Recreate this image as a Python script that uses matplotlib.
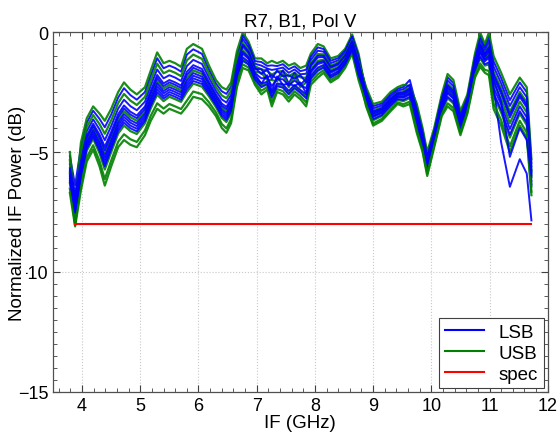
import matplotlib
matplotlib.use("Agg")
import matplotlib.pyplot as plt
from matplotlib.lines import Line2D
from matplotlib.ticker import MultipleLocator

plt.rcParams['font.family'] = ['Liberation Sans', 'DejaVu Sans']

# IF frequency grid (GHz)
IF_GHZ = [3.79, 3.88, 3.98, 4.08, 4.19, 4.30, 4.39, 4.50, 4.62, 4.72, 4.83, 4.94,
          5.08, 5.18, 5.29, 5.40, 5.50, 5.60, 5.70, 5.80, 5.91, 6.06, 6.18, 6.30,
          6.40, 6.48, 6.56, 6.66, 6.76, 6.86, 6.97, 7.08, 7.18, 7.26, 7.35, 7.45,
          7.55, 7.65, 7.75, 7.85, 7.93, 8.05, 8.15, 8.27, 8.40, 8.52, 8.64, 8.75,
          8.88, 9.00, 9.15, 9.30, 9.42, 9.52, 9.63, 9.75, 9.85, 9.93, 10.05, 10.18,
          10.28, 10.38, 10.50, 10.62, 10.75, 10.84, 10.92, 10.99, 11.07, 11.20,
          11.35, 11.52, 11.64, 11.72]

# Normalized IF power (dB), lower sideband sweeps
LSB_1 = [-5.17, -6.39, -4.80, -3.78, -3.28, -3.62, -3.97, -3.44, -2.73, -2.34, -2.63, -2.82,
         -2.50, -1.81, -1.09, -1.51, -1.40, -1.50, -1.65, -0.94, -0.72, -0.91, -1.57, -2.15,
         -2.47, -2.58, -2.27, -0.95,
         -0.30, -0.64, -1.32, -1.40, -1.52, -1.58, -1.54, -1.48, -1.70, -1.56, -1.76, -1.74,
         -1.16, -0.78, -0.82, -1.30, -1.18, -0.86, -0.26, -1.12,
         -2.38, -3.09, -2.98, -2.58, -2.37, -2.29, -2.00, -3.12, -4.10, -5.10, -4.08, -2.69,
         -1.89, -2.13, -3.40, -2.68, -1.00, -0.15, -0.62, -0.18, -1.22, -1.92, -2.84, -2.10,
         -2.51, -5.45]
LSB_2 = [-5.51, -6.77, -5.20, -4.14, -3.64, -4.06, -4.51, -3.92, -3.19, -2.82, -3.09, -3.26,
         -2.90, -2.23, -1.56, -1.93, -1.80, -1.90, -2.04, -1.42, -1.16, -1.33, -1.91, -2.45,
         -2.81, -2.94, -2.61, -1.25,
         -0.15, -0.52, -1.21, -1.25, -1.41, -1.39, -1.42, -1.34, -1.55, -1.43, -1.63, -1.57,
         -1.03, -0.64, -0.71, -1.20, -1.09, -0.78, -0.18, -1.01,
         -2.62, -3.36, -3.22, -2.82, -2.58, -2.56, -2.40, -3.48, -4.40, -5.40, -4.32, -2.96,
         -2.29, -2.52, -3.70, -2.92, -1.30, -0.58, -0.98, -0.72, -1.88, -2.58, -3.56, -2.70,
         -3.14, -5.90]
LSB_3 = [-5.68, -6.96, -5.40, -4.32, -3.82, -4.28, -4.78, -4.16, -3.42, -3.06, -3.32, -3.48,
         -3.10, -2.44, -1.79, -2.14, -2.00, -2.10, -2.23, -1.66, -1.38, -1.54, -2.08, -2.60,
         -2.98, -3.12, -2.78, -1.40,
         -0.60, -0.88, -1.54, -1.55, -1.90, -1.80, -1.95, -1.60, -2.15, -1.70, -2.20, -1.95,
         -1.42, -1.06, -1.04, -1.50, -1.36, -1.02, -0.42, -1.34,
         -2.46, -3.18, -3.06, -2.66, -2.44, -2.38, -2.20, -3.24, -4.20, -5.20, -4.16, -2.78,
         -2.02, -2.26, -3.50, -2.76, -1.10, -0.29, -0.74, -0.36, -1.44, -2.14, -3.08, -2.30,
         -2.72, -5.60]
LSB_4 = [-5.94, -7.25, -5.70, -4.59, -4.09, -4.61, -5.19, -4.52, -3.77, -3.42, -3.67, -3.81,
         -3.40, -2.76, -2.14, -2.46, -2.30, -2.40, -2.52, -2.02, -1.71, -1.86, -2.34, -2.83,
         -3.24, -3.39, -3.04, -1.63,
         -0.83, -1.06, -1.71, -1.93, -1.91, -2.25, -1.96, -1.97, -2.23, -2.02, -2.22, -2.34,
         -1.62, -1.27, -1.21, -1.65, -1.50, -1.14, -0.54, -1.51,
         -2.86, -3.63, -3.46, -3.06, -2.79, -2.83, -2.70, -3.84, -4.70, -5.70, -4.56, -3.23,
         -2.70, -2.91, -4.00, -3.16, -1.60, -1.02, -1.34, -1.26, -2.54, -3.24, -4.28, -3.30,
         -3.77, -6.35]
LSB_5 = [-6.02, -7.34, -5.80, -4.68, -4.18, -4.72, -5.32, -4.64, -3.88, -3.54, -3.78, -3.92,
         -3.50, -2.86, -2.26, -2.56, -2.40, -2.50, -2.62, -2.14, -1.82, -1.96, -2.42, -2.90,
         -3.32, -3.48, -3.12, -1.70,
         -0.90, -1.12, -1.76, -2.15, -1.80, -2.45, -1.85, -2.20, -2.15, -2.25, -2.10, -2.55,
         -1.68, -1.34, -1.26, -1.70, -1.54, -1.18, -0.58, -1.56,
         -2.78, -3.54, -3.38, -2.98, -2.72, -2.74, -2.60, -3.72, -4.60, -5.60, -4.48, -3.14,
         -2.56, -2.78, -3.90, -3.08, -1.50, -0.87, -1.22, -1.08, -2.32, -3.02, -4.04, -3.10,
         -3.56, -6.20]
LSB_6 = [-6.19, -7.53, -6.00, -4.86, -4.36, -4.94, -5.59, -4.88, -4.11, -3.78, -4.01, -4.14,
         -3.70, -3.07, -2.50, -2.77, -2.60, -2.70, -2.82, -2.38, -2.04, -2.17, -2.59, -3.05,
         -3.49, -3.66, -3.29, -1.85,
         -1.05, -1.24, -1.87, -2.15, -2.07, -2.53, -2.14, -2.18, -2.45, -2.21, -2.41, -2.59,
         -1.81, -1.48, -1.37, -1.80, -1.63, -1.26, -0.66, -1.67,
         -2.74, -3.50, -3.34, -2.94, -2.69, -2.70, -2.55, -3.66, -4.55, -5.55, -4.44, -3.10,
         -2.49, -2.72, -3.85, -3.04, -1.45, -0.80, -1.16, -0.99, -2.30, -4.60, -6.45, -5.30,
         -5.90, -7.85]
LSB_7 = [-5.77, -7.06, -5.50, -4.41, -3.91, -4.39, -4.92, -4.28, -3.54, -3.18, -3.44, -3.59,
         -3.20, -2.55, -1.91, -2.25, -2.10, -2.20, -2.33, -1.78, -1.49, -1.65, -2.17, -2.68,
         -3.07, -3.21, -2.87, -1.48,
         -0.53, -0.82, -1.49, -1.75, -1.55, -1.95, -1.60, -1.85, -1.80, -1.95, -1.80, -2.10,
         -1.36, -0.99, -0.99, -1.45, -1.32, -0.98, -0.38, -1.29,
         -2.58, -3.32, -3.18, -2.78, -2.55, -2.52, -2.35, -3.42, -4.35, -5.35, -4.28, -2.92,
         -2.22, -2.46, -3.65, -2.88, -1.25, -0.51, -0.92, -0.63, -1.77, -2.47, -3.44, -2.60,
         -3.04, -5.83]
LSB_8 = [-6.11, -7.44, -5.90, -4.77, -4.27, -4.83, -5.46, -4.76, -4.00, -3.66, -3.90, -4.03,
         -3.60, -2.97, -2.38, -2.67, -2.50, -2.60, -2.72, -2.26, -1.93, -2.07, -2.51, -2.98,
         -3.41, -3.57, -3.21, -1.78,
         -1.20, -1.36, -1.98, -2.30, -2.18, -2.72, -2.26, -2.32, -2.60, -2.34, -2.54, -2.76,
         -1.94, -1.62, -1.48, -1.90, -1.72, -1.34, -0.74, -1.78,
         -2.66, -3.41, -3.26, -2.86, -2.62, -2.61, -2.45, -3.54, -4.45, -5.45, -4.36, -3.01,
         -2.36, -2.59, -3.75, -2.96, -1.35, -0.65, -1.04, -0.81, -1.99, -2.90, -5.20, -4.00,
         -4.50, -5.98]

# Normalized IF power (dB), upper sideband sweeps
USB_1 = [-5.00, -7.20, -4.60, -3.60, -3.10, -3.40, -3.70, -3.20, -2.50, -2.10, -2.40, -2.60,
         -2.30, -1.60, -0.85, -1.30, -1.20, -1.30, -1.45, -0.70, -0.50, -0.70, -1.40, -2.00,
         -2.30, -2.40, -2.10, -0.80,
         -0.02, -0.40, -1.10, -1.10, -1.30, -1.20, -1.30, -1.20, -1.40, -1.30, -1.50, -1.40,
         -0.90, -0.50, -0.60, -1.10, -1.00, -0.70, -0.10, -0.90,
         -2.54, -3.27, -3.14, -2.74, -2.51, -2.47, -2.30, -3.36, -4.30, -5.30, -4.24, -2.87,
         -2.16, -2.39, -3.60, -2.84, -1.20, -0.44, -0.86, -0.54, -1.66, -2.36, -3.32, -2.50,
         -2.93, -5.75]
USB_2 = [-5.34, -7.90, -5.00, -3.96, -3.46, -3.84, -4.24, -3.68, -2.96, -2.58, -2.86, -3.04,
         -2.70, -2.02, -1.32, -1.72, -1.60, -1.70, -1.84, -1.18, -0.94, -1.12, -1.74, -2.30,
         -2.64, -2.76, -2.44, -1.10,
         -0.45, -0.76, -1.43, -1.55, -1.63, -1.77, -1.66, -1.62, -1.85, -1.69, -1.89, -1.91,
         -1.29, -0.92, -0.93, -1.40, -1.27, -0.94, -0.34, -1.23,
         -2.30, -3.00, -2.90, -2.50, -2.30, -2.20, -2.25, -3.00, -4.00, -5.00, -4.00, -2.60,
         -1.75, -2.00, -3.30, -2.60, -0.90, -0.02, -0.50, -0.02, -1.00, -1.70, -2.60, -1.90,
         -2.30, -5.30]
USB_3 = [-5.85, -8.00, -5.60, -4.50, -4.00, -4.50, -5.05, -4.40, -3.65, -3.30, -3.55, -3.70,
         -3.30, -2.65, -2.03, -2.35, -2.20, -2.30, -2.43, -1.90, -1.60, -1.75, -2.25, -2.75,
         -3.15, -3.30, -2.95, -1.55,
         -0.75, -1.00, -1.65, -1.70, -2.00, -2.00, -2.05, -1.75, -2.30, -1.80, -2.30, -2.10,
         -1.55, -1.20, -1.15, -1.60, -1.45, -1.10, -0.50, -1.45,
         -2.90, -3.68, -3.50, -3.10, -2.83, -2.88, -2.75, -3.90, -4.75, -5.75, -4.60, -3.28,
         -2.76, -2.98, -4.05, -3.20, -1.65, -1.09, -1.40, -1.35, -2.65, -3.35, -4.40, -3.40,
         -3.88, -6.43]
USB_4 = [-6.28, -8.05, -6.10, -4.95, -4.45, -5.05, -5.73, -5.00, -4.23, -3.90, -4.13, -4.25,
         -3.80, -3.18, -2.61, -2.88, -2.70, -2.80, -2.91, -2.50, -2.15, -2.28, -2.68, -3.13,
         -3.58, -3.75, -3.38, -1.93,
         -1.35, -1.48, -2.09, -2.45, -2.29, -2.91, -2.38, -2.46, -2.75, -2.47, -2.67, -2.93,
         -2.07, -1.76, -1.59, -2.00, -1.81, -1.42, -0.82, -1.89,
         -2.70, -3.45, -3.30, -2.90, -2.65, -2.65, -2.50, -3.60, -4.50, -5.50, -4.40, -3.05,
         -2.43, -2.65, -3.80, -3.00, -1.40, -0.73, -1.10, -0.90, -2.10, -2.80, -3.80, -2.90,
         -3.35, -6.05]
USB_5 = [-6.53, -7.91, -6.40, -5.22, -4.72, -5.38, -6.13, -5.36, -4.57, -4.26, -4.47, -4.58,
         -4.10, -3.49, -2.97, -3.19, -3.00, -3.10, -3.21, -2.86, -2.48, -2.59, -2.93, -3.35,
         -3.83, -4.02, -3.63, -2.15,
         -1.13, -1.30, -1.93, -2.23, -2.13, -2.63, -2.20, -2.25, -2.53, -2.28, -2.48, -2.68,
         -1.88, -1.55, -1.43, -1.85, -1.68, -1.30, -0.70, -1.73,
         -3.10, -3.90, -3.70, -3.30, -3.00, -3.10, -3.00, -4.20, -5.00, -6.00, -4.80, -3.50,
         -3.10, -3.30, -4.30, -3.40, -1.90, -1.45, -1.70, -1.80, -3.20, -3.90, -5.00, -3.90,
         -4.40, -6.80]
USB_6 = [-6.70, -8.10, -6.60, -5.40, -4.90, -5.60, -6.40, -5.60, -4.80, -4.50, -4.70, -4.80,
         -4.30, -3.70, -3.20, -3.40, -3.20, -3.30, -3.40, -3.10, -2.70, -2.80, -3.10, -3.50,
         -4.00, -4.20, -3.80, -2.30,
         -1.50, -1.60, -2.20, -2.60, -2.40, -3.10, -2.50, -2.60, -2.90, -2.60, -2.80, -3.10,
         -2.20, -1.90, -1.70, -2.10, -1.90, -1.50, -0.90, -2.00,
         -3.02, -3.81, -3.62, -3.22, -2.93, -3.01, -2.90, -4.08, -4.90, -5.90, -4.72, -3.41,
         -2.97, -3.17, -4.20, -3.32, -1.80, -1.31, -1.58, -1.62, -2.98, -3.68, -4.76, -3.70,
         -4.19, -6.65]

LSB_SWEEPS = [LSB_1, LSB_2, LSB_3, LSB_4, LSB_5, LSB_6, LSB_7, LSB_8]
USB_SWEEPS = [USB_1, USB_2, USB_3, USB_4, USB_5, USB_6]

# Specification limit
SPEC_X = [3.88, 11.72]
SPEC_DB = [-8.0, -8.0]

LEGEND_LABELS = ["LSB", "USB", "spec"]
X_TICKS = [4, 5, 6, 7, 8, 9, 10, 11, 12]
Y_TICKS = [0, -5, -10, -15]

BLUE = "#0000ff"
GREEN = "#008000"
RED = "#ff0000"

fig = plt.figure(figsize=(5.59, 4.35), dpi=100)
ax = fig.add_axes([0.0948, 0.0966, 0.8850, 0.8275])

# interleave the sideband sweeps so neither colour sits fully on top
n = max(len(LSB_SWEEPS), len(USB_SWEEPS))
for i in range(n):
    if i < len(LSB_SWEEPS):
        ax.plot(IF_GHZ, LSB_SWEEPS[i], color=BLUE, lw=1.4, alpha=0.9)
    if i < len(USB_SWEEPS):
        ax.plot(IF_GHZ, USB_SWEEPS[i], color=GREEN, lw=1.6, alpha=0.9)
ax.plot(SPEC_X, SPEC_DB, color=RED, lw=1.5)

ax.set_xlim(3.5, 12)
ax.set_ylim(-15, 0)
ax.set_xticks(X_TICKS)
ax.set_yticks(Y_TICKS)
ax.xaxis.set_minor_locator(MultipleLocator(0.2))
ax.yaxis.set_minor_locator(MultipleLocator(0.5))
ax.tick_params(which='both', direction='in', top=True, right=True,
               labelsize=13, colors='#404040', labelcolor='black')
ax.tick_params(which='major', length=5, width=0.8)
ax.tick_params(which='minor', length=3, width=0.6)
ax.grid(True, which='major', linestyle=':', color='#c8c8c8', linewidth=0.8)
for sp in ax.spines.values():
    sp.set_color('#505050')
    sp.set_linewidth(0.9)

ax.set_title("R7, B1, Pol V", fontsize=13.5, pad=5)
ax.set_xlabel("IF (GHz)", fontsize=13.5, labelpad=0)
# the y label sits close to the tick labels, on a white backing
ax.set_ylabel("Normalized IF Power (dB)", fontsize=13.5,
              bbox=dict(facecolor='white', edgecolor='none', pad=0))
ax.yaxis.set_label_coords(-0.0546, 0.5)

handles = [Line2D([], [], color=BLUE, lw=1.5),
           Line2D([], [], color=GREEN, lw=1.5),
           Line2D([], [], color=RED, lw=1.5)]
leg = ax.legend(handles, LEGEND_LABELS, loc='lower right', fontsize=13.5,
                fancybox=False, framealpha=1, edgecolor='#404040',
                borderaxespad=0.2, handlelength=2.1, labelspacing=0.2,
                borderpad=0.3, handletextpad=0.8)
leg.get_frame().set_linewidth(0.8)

fig.savefig("out.png", dpi=100)
